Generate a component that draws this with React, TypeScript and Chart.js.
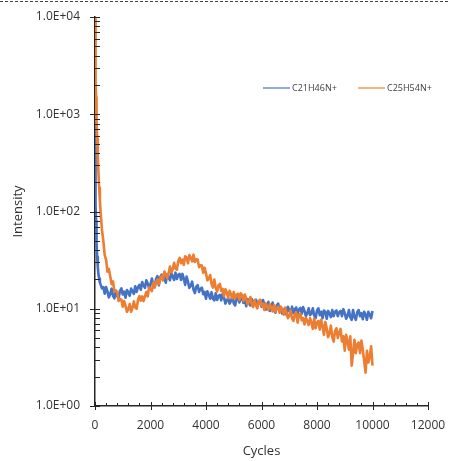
import React, { useEffect, useRef } from 'react';
import { Chart, registerables } from 'chart.js';

Chart.register(...registerables);

const cycles = [
  0, 10, 20, 30, 40, 50, 60, 80, 100, 125, 150, 175, 200, 250,
  300, 350, 400, 450, 500, 550, 600, 650, 700, 750,
  800, 850, 900, 950, 1000, 1050, 1100, 1150, 1200, 1250,
  1300, 1350, 1400, 1450, 1500, 1550, 1600, 1650, 1700, 1750,
  1800, 1850, 1900, 1950, 2000, 2050, 2100, 2150, 2200, 2250,
  2300, 2350, 2400, 2450, 2500, 2550, 2600, 2650, 2700, 2750,
  2800, 2850, 2900, 2950, 3000, 3050, 3100, 3150, 3200, 3250,
  3300, 3350, 3400, 3450, 3500, 3550, 3600, 3650, 3700, 3750,
  3800, 3850, 3900, 3950, 4000, 4050, 4100, 4150, 4200, 4250,
  4300, 4350, 4400, 4450, 4500, 4550, 4600, 4650, 4700, 4750,
  4800, 4850, 4900, 4950, 5000, 5050, 5100, 5150, 5200, 5250,
  5300, 5350, 5400, 5450, 5500, 5550, 5600, 5650, 5700, 5750,
  5800, 5850, 5900, 5950, 6000, 6050, 6100, 6150, 6200, 6250,
  6300, 6350, 6400, 6450, 6500, 6550, 6600, 6650, 6700, 6750,
  6800, 6850, 6900, 6950, 7000, 7050, 7100, 7150, 7200, 7250,
  7300, 7350, 7400, 7450, 7500, 7550, 7600, 7650, 7700, 7750,
  7800, 7850, 7900, 7950, 8000, 8050, 8100, 8150, 8200, 8250,
  8300, 8350, 8400, 8450, 8500, 8550, 8600, 8650, 8700, 8750,
  8800, 8850, 8900, 8950, 9000, 9050, 9100, 9150, 9200, 9250,
  9300, 9350, 9400, 9450, 9500, 9550, 9600, 9650, 9700, 9750,
  9800, 9850, 9900, 9950, 10000,
];

const c21h46n = [
  800, 380, 190, 115, 80, 60, 47, 34, 27, 22.5, 20.5, 18.6, 17.8, 16.2,
  16.7, 14.3, 16.7, 15.0, 13.1, 14.2, 16.1, 13.6, 12.8, 15.3,
  13.6, 12.8, 15.3, 16.2, 14.0, 15.0, 13.0, 15.6, 14.7, 13.6,
  16.1, 15.2, 14.2, 17.0, 14.9, 16.7, 17.6, 15.7, 18.8, 17.3,
  16.4, 19.6, 18.2, 16.2, 17.8, 20.4, 17.5, 16.7, 20.3, 21.6,
  17.4, 21.0, 22.4, 19.6, 21.2, 18.5, 22.5, 21.1, 19.6, 23.3,
  21.5, 19.8, 23.5, 20.2, 22.3, 22.8, 19.8, 22.8, 20.4, 17.6,
  21.4, 19.0, 16.4, 17.2, 19.0, 15.7, 14.5, 16.9, 17.5, 14.9,
  16.0, 16.5, 14.1, 14.9, 12.7, 15.1, 14.0, 12.7, 14.8, 12.7,
  12.2, 14.4, 12.3, 13.5, 13.9, 12.2, 14.3, 13.0, 11.3, 12.2,
  12.8, 11.3, 12.0, 13.6, 11.4, 10.8, 12.8, 13.5, 11.6, 12.5,
  13.3, 11.5, 12.3, 10.6, 12.6, 11.8, 10.8, 12.6, 10.9, 12.0,
  12.4, 10.6, 11.8, 12.1, 10.5, 12.3, 11.2, 9.8, 10.5, 11.8,
  9.5, 10.3, 11.6, 9.7, 9.1, 10.8, 11.3, 9.7, 10.4, 8.9,
  9.5, 10.2, 8.7, 10.5, 9.7, 8.9, 10.5, 9.0, 9.9, 10.3,
  8.9, 9.8, 10.2, 8.9, 10.4, 9.5, 8.4, 9.0, 10.1, 8.6,
  8.9, 10.1, 8.5, 8.0, 9.6, 10.1, 8.6, 9.3, 8.0, 9.6,
  9.3, 7.9, 9.5, 8.9, 8.2, 9.7, 8.4, 9.3, 9.6, 8.4,
  9.2, 9.5, 8.4, 9.9, 9.0, 7.9, 8.5, 9.7, 8.2, 7.7,
  9.7, 8.2, 7.7, 9.2, 9.7, 8.4, 9.0, 7.8, 9.3, 8.7,
  7.7, 9.3, 8.7, 8.0, 9.5,
];

const c25h54n = [
  9500, 5200, 3100, 2100, 1500, 1100, 850, 560, 380, 250, 175, 130, 100, 65,
  50.0, 35.5, 31.9, 24.0, 25.7, 21.5, 17.9, 19.1, 15.0, 15.4,
  14.9, 12.0, 12.6, 12.4, 10.5, 12.0, 10.7, 9.3, 9.9, 11.2,
  9.3, 10.2, 11.9, 10.3, 10.0, 12.4, 13.5, 12.1, 13.4, 12.0,
  13.4, 14.9, 13.4, 16.6, 16.0, 15.2, 18.5, 16.5, 18.7, 20.0,
  17.9, 20.4, 21.8, 19.8, 24.1, 22.6, 20.7, 23.1, 27.1, 23.6,
  25.4, 29.7, 25.9, 25.2, 30.9, 33.3, 29.4, 32.1, 28.3, 34.6,
  33.7, 29.4, 35.6, 33.5, 30.7, 36.0, 30.3, 32.2, 32.0, 26.8,
  28.0, 27.8, 23.4, 26.4, 23.2, 19.6, 20.4, 22.2, 18.1, 16.5,
  20.0, 16.4, 15.0, 17.4, 18.0, 15.2, 16.0, 13.5, 15.9, 14.7,
  12.9, 15.3, 14.1, 12.8, 14.9, 12.7, 13.9, 14.3, 12.4, 14.4,
  13.8, 12.1, 14.0, 12.6, 11.1, 11.8, 13.2, 11.1, 10.4, 12.3,
  10.8, 10.1, 11.9, 12.4, 10.7, 11.3, 9.7, 11.4, 10.6, 9.7,
  11.1, 10.3, 9.4, 10.9, 9.3, 10.2, 10.5, 9.1, 10.5, 9.5,
  8.7, 10.2, 9.2, 8.0, 8.5, 9.6, 8.0, 7.5, 8.8, 9.2,
  7.2, 8.5, 8.9, 7.6, 8.0, 6.9, 8.1, 7.5, 6.8, 8.0,
  7.2, 6.2, 7.9, 6.3, 7.2, 7.5, 6.1, 7.7, 6.6, 5.4,
  7.3, 6.3, 5.1, 5.6, 6.7, 5.1, 4.6, 5.9, 6.3, 5.0,
  5.7, 6.2, 4.6, 5.2, 3.7, 5.4, 4.6, 3.8, 5.2, 2.6,
  3.5, 4.8, 3.5, 4.3, 4.5, 3.5, 4.7, 3.8, 2.9, 2.2,
  3.7, 2.8, 3.2, 4.1, 2.6,
];

const seriesLabels = ['C21H46N+', 'C25H54N+'];
const seriesColors = ['#4472C4', '#ED7D31'];
const xTickValues = [0, 2000, 4000, 6000, 8000, 10000, 12000];
const yTickValues = [1, 10, 100, 1000, 10000];
const xTitle = 'Cycles';
const yTitle = 'Intensity';

const FONT = "'Open Sans', 'Liberation Sans', sans-serif";
const TEXT = '#333333';
const AXIS = '#262626';

function fmtExp(v: number): string {
  const e = Math.round(Math.log10(v));
  return '1.0E' + (e < 0 ? '-' : '+') + String(Math.abs(e)).padStart(2, '0');
}

const tickMarksPlugin = {
  id: 'tickMarks',
  afterDraw(chart: any) {
    const { ctx, chartArea: ca } = chart;
    const xs = chart.scales.x;
    const ys = chart.scales.y;
    ctx.save();
    ctx.strokeStyle = AXIS;
    ctx.lineWidth = 1;
    const line = (x1: number, y1: number, x2: number, y2: number) => {
      ctx.beginPath();
      ctx.moveTo(x1, y1);
      ctx.lineTo(x2, y2);
      ctx.stroke();
    };
    for (const v of yTickValues) {
      const py = Math.round(ys.getPixelForValue(v)) + 0.5;
      line(ca.left - 5, py, ca.left + 5, py);
    }
    for (let i = 0; i < yTickValues.length - 1; i++) {
      for (let k = 2; k <= 9; k++) {
        const py = Math.round(ys.getPixelForValue(yTickValues[i] * k)) + 0.5;
        line(ca.left, py, ca.left + 5, py);
      }
    }
    for (const v of xTickValues) {
      const px = Math.round(xs.getPixelForValue(v)) + 0.5;
      line(px, ca.bottom - 4, px, ca.bottom + 4);
    }
    for (let i = 0; i < xTickValues.length - 1; i++) {
      const a = xTickValues[i];
      const step = (xTickValues[i + 1] - a) / 5;
      for (let k = 1; k < 5; k++) {
        const px = Math.round(xs.getPixelForValue(a + step * k)) + 0.5;
        line(px, ca.bottom - 3, px, ca.bottom);
      }
    }
    ctx.restore();
  },
};

const legendPlugin = {
  id: 'insideLegend',
  afterDraw(chart: any) {
    const { ctx, chartArea: ca } = chart;
    ctx.save();
    const y = ca.top + 71;
    const starts = [ca.left + 168, ca.left + 263];
    ctx.font = `9px ${FONT}`;
    ctx.textBaseline = 'middle';
    ctx.textAlign = 'left';
    chart.data.datasets.forEach((ds: any, i: number) => {
      const x0 = starts[i];
      ctx.strokeStyle = ds.borderColor;
      ctx.globalAlpha = 0.6;
      ctx.lineWidth = 2;
      ctx.beginPath();
      ctx.moveTo(x0, y);
      ctx.lineTo(x0 + 27, y);
      ctx.stroke();
      ctx.globalAlpha = 1;
      ctx.fillStyle = '#404040';
      ctx.fillText(ds.label, x0 + 29, y);
    });
    ctx.restore();
  },
};

const dashedTopPlugin = {
  id: 'dashedTop',
  afterDraw(chart: any) {
    const { ctx } = chart;
    ctx.save();
    ctx.strokeStyle = '#444444';
    ctx.lineWidth = 1;
    ctx.setLineDash([3, 2]);
    ctx.beginPath();
    ctx.moveTo(0, 1.5);
    ctx.lineTo(chart.width, 1.5);
    ctx.stroke();
    ctx.restore();
  },
};

const zeroPadding = (s: any) => {
  s.paddingTop = 0;
  s.paddingBottom = 0;
  s.paddingLeft = 0;
  s.paddingRight = 0;
};

export default function App() {
  const ref = useRef<HTMLCanvasElement>(null);

  useEffect(() => {
    if (!ref.current) return;
    const series = [c21h46n, c25h54n];
    const chart = new Chart(ref.current, {
      type: 'line',
      data: {
        datasets: series.map((vals, i) => ({
          label: seriesLabels[i],
          data: cycles.map((c, j) => ({ x: c, y: vals[j] })),
          borderColor: seriesColors[i],
          backgroundColor: seriesColors[i],
          borderWidth: 2.6,
          borderJoinStyle: 'round',
          pointRadius: 0,
          tension: 0,
          fill: false,
          order: i === 0 ? 1 : 0,
        })),
      },
      options: {
        responsive: false,
        animation: false,
        devicePixelRatio: 1,
        layout: { padding: { left: 0, right: 22, top: 17, bottom: 0 } },
        plugins: {
          legend: { display: false },
          tooltip: { enabled: false },
        },
        scales: {
          x: {
            type: 'linear',
            min: 0,
            max: 12000,
            grid: { display: false, drawTicks: false },
            border: { display: true, color: AXIS, width: 1.5 },
            afterBuildTicks: (s: any) => {
              s.ticks = xTickValues.map((v) => ({ value: v }));
            },
            afterFit: (s: any) => {
              s.height = 55;
              zeroPadding(s);
            },
            ticks: {
              autoSkip: false,
              maxRotation: 0,
              padding: 12,
              color: TEXT,
              font: { family: FONT, size: 12 },
              callback: (v: any) => String(v),
            },
            title: {
              display: true,
              text: xTitle,
              color: TEXT,
              font: { family: FONT, size: 13 },
              padding: { top: 0, bottom: 2 },
            },
          },
          y: {
            type: 'logarithmic',
            min: 1,
            max: 10000,
            grid: { display: false, drawTicks: false },
            border: { display: true, color: AXIS, width: 1.5 },
            afterBuildTicks: (s: any) => {
              s.ticks = yTickValues.map((v) => ({ value: v }));
            },
            afterFit: (s: any) => {
              s.width = 95;
              zeroPadding(s);
            },
            ticks: {
              autoSkip: false,
              padding: 15,
              color: TEXT,
              font: { family: FONT, size: 12 },
              callback: (v: any) => fmtExp(Number(v)),
            },
            title: {
              display: true,
              text: yTitle,
              color: TEXT,
              font: { family: FONT, size: 13 },
              padding: { top: 10, bottom: 0 },
            },
          },
        },
      } as any,
      plugins: [tickMarksPlugin, legendPlugin, dashedTopPlugin],
    });
    return () => chart.destroy();
  }, []);

  return (
    <div style={{ position: 'absolute', left: 0, top: 0, width: 450, height: 461 }}>
      <canvas ref={ref} width={450} height={461} style={{ display: 'block' }} />
    </div>
  );
}
